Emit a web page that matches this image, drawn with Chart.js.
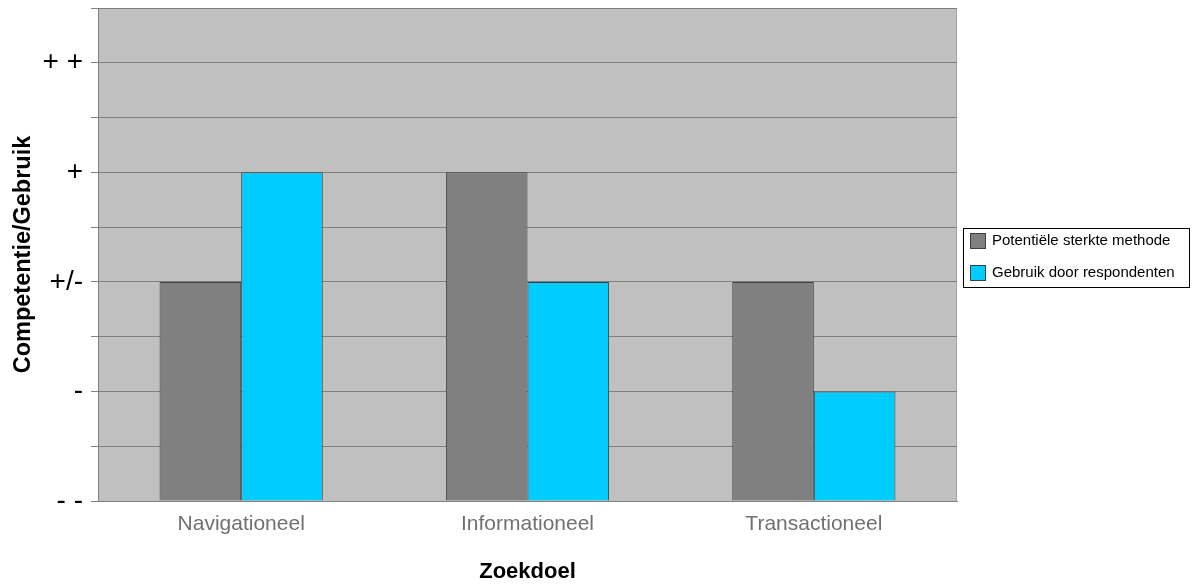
<!DOCTYPE html>
<html>
<head>
<meta charset="utf-8">
<script src="https://cdn.jsdelivr.net/npm/chart.js@4/dist/chart.umd.min.js"></script>
<style>
  body { margin: 0; background: #fff; }
</style>
</head>
<body>
<canvas id="chart" width="1192" height="587"></canvas>
<script>
const categories = ['Navigationeel', 'Informationeel', 'Transactioneel'];
const yLevels = ['- -', '-', '+/-', '+', '+ +'];
const potentieleSterkte = [2, 3, 2];
const gebruikRespondenten = [3, 2, 1];

const FONT = '"Liberation Sans", Arial, sans-serif';

// grey plot background
const plotBg = {
  id: 'plotBg',
  beforeDraw(chart) {
    const { ctx, chartArea: a } = chart;
    ctx.save();
    ctx.fillStyle = '#c0c0c0';
    ctx.fillRect(a.left, a.top, a.right - a.left, a.bottom - a.top);
    ctx.strokeStyle = '#a0a0a0';
    ctx.lineWidth = 1;
    ctx.beginPath();
    ctx.moveTo(a.right - 0.5, a.top);
    ctx.lineTo(a.right - 0.5, a.bottom);
    ctx.stroke();
    ctx.restore();
  }
};

// boxed legend on the right
const boxLegend = {
  id: 'boxLegend',
  afterDraw(chart) {
    const { ctx } = chart;
    const x = 963.5, y = 228.5, w = 226, h = 59;
    ctx.save();
    ctx.fillStyle = '#fff';
    ctx.fillRect(x, y, w, h);
    ctx.strokeStyle = '#000';
    ctx.lineWidth = 1;
    ctx.strokeRect(x, y, w, h);
    ctx.font = '15px ' + FONT;
    ctx.textBaseline = 'middle';
    chart.data.datasets.forEach((ds, i) => {
      const cy = 241 + i * 32;
      ctx.fillStyle = ds.backgroundColor;
      ctx.fillRect(970.5, cy - 7.5, 15, 15);
      ctx.strokeStyle = '#404040';
      ctx.strokeRect(970.5, cy - 7.5, 15, 15);
      ctx.fillStyle = '#000';
      ctx.fillText(ds.label, 992, cy);
    });
    ctx.restore();
  }
};

new Chart(document.getElementById('chart'), {
  type: 'bar',
  data: {
    labels: categories,
    datasets: [
      {
        label: 'Potentiële sterkte methode',
        data: potentieleSterkte,
        backgroundColor: '#808080',
        borderColor: '#404040',
        borderWidth: 1
      },
      {
        label: 'Gebruik door respondenten',
        data: gebruikRespondenten,
        backgroundColor: '#00ccff',
        borderColor: '#404040',
        borderWidth: 1
      }
    ]
  },
  options: {
    responsive: false,
    animation: false,
    layout: { padding: { top: 8, right: 235, left: 0, bottom: 0 } },
    datasets: { bar: { categoryPercentage: 0.57, barPercentage: 1 } },
    plugins: {
      legend: { display: false },
      tooltip: { enabled: false }
    },
    scales: {
      x: {
        grid: { display: false },
        border: { display: true, color: '#808080' },
        ticks: { color: '#707070', font: { family: FONT, size: 21 }, padding: 3 },
        title: {
          display: true,
          text: 'Zoekdoel',
          color: '#000',
          font: { family: FONT, size: 22, weight: 'bold' },
          padding: { top: 0, bottom: 2 }
        },
        afterFit(s) { s.height = 86; }
      },
      y: {
        min: 0,
        max: 4.5,
        ticks: {
          stepSize: 0.5,
          color: '#000',
          font: { family: FONT, size: 28 },
          padding: 8,
          callback: v => (Number.isInteger(v) && yLevels[v] !== undefined) ? yLevels[v] : ''
        },
        grid: { color: '#808080', tickLength: 7, tickColor: '#808080' },
        border: { display: true, color: '#808080' },
        title: {
          display: true,
          text: 'Competentie/Gebruik',
          color: '#000',
          font: { family: FONT, size: 23.5, weight: 'bold' },
          padding: { top: 9, bottom: 0 }
        },
        afterFit(s) {
          s.width = 98;
          s.paddingTop = 0;
          s.paddingBottom = 0;
        }
      }
    }
  },
  plugins: [plotBg, boxLegend]
});
</script>
</body>
</html>
